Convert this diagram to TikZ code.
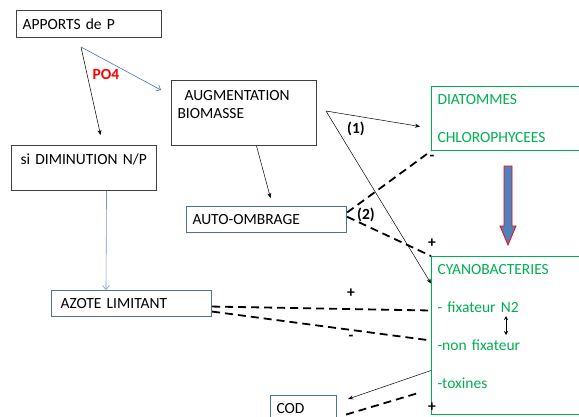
\documentclass[tikz,border=0pt]{standalone}
\usepackage{fontspec}
\setmainfont{Carlito}
\usepackage{xcolor}
\usepackage{tikz}
\usetikzlibrary{arrows.meta,calc}
\definecolor{boxgray}{RGB}{64,64,64}
\definecolor{boxblue}{RGB}{79,110,165}
\definecolor{linkblue}{RGB}{68,114,196}
\definecolor{paleblue}{RGB}{120,150,200}
\definecolor{algagreen}{RGB}{0,176,80}
\definecolor{arrowfill}{RGB}{79,129,189}

\begin{document}
\begin{tikzpicture}[x=1pt, y=-1pt,
    every node/.style={font=\fontsize{15.5}{18}\selectfont},
    box/.style={draw=boxgray, line width=1.1pt, anchor=north west, align=left, inner xsep=6pt, inner ysep=0pt},
    bluebox/.style={box, draw=boxblue},
    greenbox/.style={box, draw=algagreen, text=algagreen, line width=1pt},
    link/.style={-{Stealth[length=5pt,width=4pt]}, line width=0.5pt},
    bluelink/.style={-{Straight Barb[length=4pt,width=7pt]}, linkblue, line width=0.6pt},
    effect/.style={line width=1.8pt, dash pattern=on 8pt off 5pt},
    sign/.style={font=\fontsize{15.5}{18}\selectfont\bfseries}]
    \useasboundingbox (0,0) rectangle (579,416);
    % Phosphorus input
    \node[box, text width=133pt, minimum height=27pt] (apports) at (16,10) {APPORTS de P};
    \coordinate (psplit) at (81,47);
    \node[sign, text=red] (po4) at (106,74) {PO4};
    % Biomass and N/P branch
    \node[box, text width=133pt, minimum height=65pt] (aug) at (171,80) {\hspace*{7pt}AUGMENTATION\\BIOMASSE\\\mbox{}};
    \node[box, text width=133pt, minimum height=45pt] (diminution) at (11,145) {\hspace*{3pt}si DIMINUTION N/P\\\mbox{}};
    \node[bluebox, text width=148pt, minimum height=26pt] (autoombrage) at (186,206) {AUTO-OMBRAGE};
    \node[bluebox, text width=148pt, minimum height=26pt] (azote) at (51,290) {\hspace*{3pt}AZOTE LIMITANT};
    \node[bluebox, text width=54pt, minimum height=26pt] (cod) at (270,395) {COD};
    % Algal groups
    \node[greenbox, text width=148pt, minimum height=64pt] (diatom) at (431,86) {DIATOMMES\\[20pt]CHLOROPHYCEES};
    \node[greenbox, text width=148pt, minimum height=158pt] (cyano) at (431,256) {CYANOBACTERIES\\[20pt]- fixateur N2\\[20pt]-non fixateur\\[20pt]-toxines\\\mbox{}};
    \coordinate (fork) at (326,111);
    \coordinate (fixtop) at (506,316);
    \coordinate (fixbot) at (506,335);
    % Arrows from the input
    \draw[link] (psplit) -- ($(diminution.north)+(16.5,-10)$);
    \draw[bluelink] (psplit) -- ($(aug.north west)+(-10,10)$);
    \draw[link] ($(aug.south)+(12.5,0)$) -- ($(autoombrage.north)+(4,-8)$);
    \draw[bluelink, paleblue] ($(diminution.south)+(22.5,0)$) -- ($(azote.north west)+(55,0)$);
    % Paths (1) and (2)
    \draw[link] (fork) -- ($(diatom.west)+(-11,8)$);
    \draw[link] (fork) -- ($(cyano.west)+(0,-52)$);
    \node[sign] (one) at (356,129) {(1)};
    \node[sign] (two) at (366,215) {(2)};
    \draw[effect] (autoombrage.5) -- (diatom.south west);
    \draw[effect] (autoombrage.2) -- (cyano.north west);
    \node[sign] (minus1) at (432,158) {-};
    \node[sign] (plus1) at (432,243) {+};
    % Nitrogen effects
    \draw[effect] ($(azote.east)+(0,3)$) -- ($(cyano.west)+(0,-25)$);
    \draw[effect] ($(azote.east)+(0,8)$) -- ($(cyano.west)+(0,5)$);
    \node[sign] (plus2) at (351,293) {+};
    \node[sign] (minus2) at (351,338) {-};
    % Toxins and COD
    \draw[link] ($(cyano.west)+(0,35)$) -- ($(cod.north east)+(11,4)$);
    \draw[effect] ($(cod.east)+(9,6)$) -- ($(cyano.west)+(-11,57)$);
    \node[sign] (plus3) at (432,407) {+};
    \draw[{Stealth[length=4pt,width=4pt]}-{Stealth[length=4pt,width=4pt]}, line width=0.7pt] (fixtop) -- (fixbot);
    % Shift arrow
    \fill[arrowfill, draw=red, line width=0.8pt] (504,166) -- (512,166) -- (512,226) -- (516,226) -- (508,245) -- (500,226) -- (504,226) -- cycle;
\end{tikzpicture}
\end{document}
